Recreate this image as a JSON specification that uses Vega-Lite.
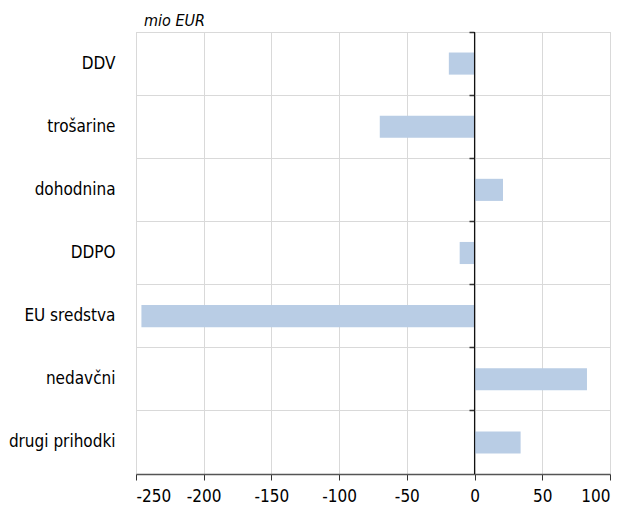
{
  "$schema": "https://vega.github.io/schema/vega-lite/v6.json",
  "autosize": {"type": "none"},
  "padding": {"left": 136, "top": 32, "right": 16, "bottom": 37},
  "width": 474,
  "height": 442,
  "background": "white",
  "config": {
    "font": "DejaVu Sans Condensed",
    "view": {"stroke": "#d0d0d0", "strokeWidth": 1}
  },
  "title": {
    "text": "mio EUR",
    "anchor": "start",
    "frame": "group",
    "dx": 8,
    "offset": 2,
    "fontSize": 16,
    "fontStyle": "italic",
    "fontWeight": "normal",
    "color": "#000000",
    "font": "DejaVu Sans Condensed"
  },
  "data": {
    "values": [
      {"kategorija": "DDV", "vrednost": -19},
      {"kategorija": "trošarine", "vrednost": -70},
      {"kategorija": "dohodnina", "vrednost": 21},
      {"kategorija": "DDPO", "vrednost": -11},
      {"kategorija": "EU sredstva", "vrednost": -246},
      {"kategorija": "nedavčni", "vrednost": 83},
      {"kategorija": "drugi prihodki", "vrednost": 34}
    ]
  },
  "resolve": {"axis": {"y": "independent"}},
  "layer": [
    {
      "mark": {"type": "bar", "color": "#b9cde5", "height": {"band": 0.35}},
      "encoding": {
        "y": {
          "field": "kategorija",
          "type": "nominal",
          "sort": null,
          "scale": {"paddingInner": 0, "paddingOuter": 0},
          "axis": {
            "title": null,
            "grid": true,
            "bandPosition": 0,
            "gridColor": "#d9d9d9",
            "gridWidth": 1,
            "domain": false,
            "ticks": false,
            "labelFontSize": 17,
            "labelColor": "#000000",
            "labelPadding": 21
          }
        },
        "x": {
          "field": "vrednost",
          "type": "quantitative",
          "scale": {"domain": [-250, 100], "nice": false},
          "axis": {
            "title": null,
            "values": [-250, -200, -150, -100, -50, 0, 50, 100],
            "labelExpr": "toString(datum.value)",
            "grid": true,
            "gridColor": "#d9d9d9",
            "gridWidth": 1,
            "domainColor": "#555555",
            "domainWidth": 1.5,
            "tickColor": "#333333",
            "tickSize": 6,
            "labelFontSize": 17,
            "labelColor": "#000000",
            "labelPadding": 8
          }
        }
      }
    },
    {
      "mark": {"type": "bar", "opacity": 0, "height": {"band": 0.35}},
      "encoding": {
        "y": {
          "field": "kategorija",
          "type": "nominal",
          "sort": null,
          "axis": {
            "orient": "right",
            "offset": -136,
            "title": null,
            "grid": false,
            "labels": false,
            "domain": false,
            "ticks": true,
            "bandPosition": 0,
            "tickSize": -5,
            "tickColor": "#333333",
            "tickWidth": 1.5
          }
        },
        "x": {"field": "vrednost", "type": "quantitative"}
      }
    },
    {
      "data": {"values": [{"x": 0}]},
      "mark": {"type": "rule", "color": "#111111", "strokeWidth": 1.2},
      "encoding": {"x": {"field": "x", "type": "quantitative"}}
    }
  ]
}
